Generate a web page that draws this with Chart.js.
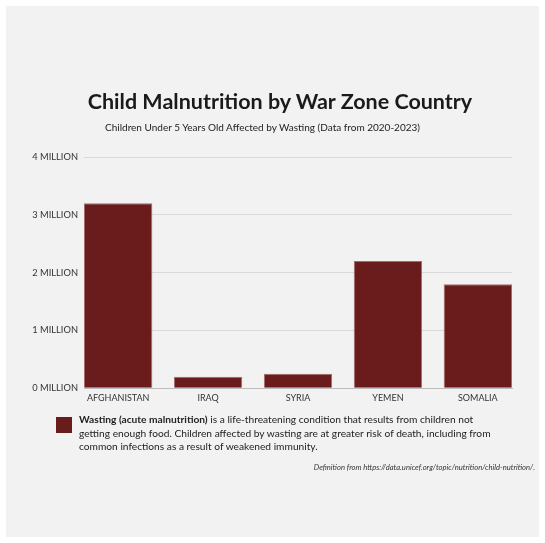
<!DOCTYPE html>
<html>
<head>
<meta charset="utf-8">
<script src="https://cdn.jsdelivr.net/npm/chart.js@4.4.1/dist/chart.umd.min.js"></script>
<style>
    html, body { margin: 0; padding: 0; background: #ffffff; }
    body { width: 545px; height: 543px; position: relative; overflow: hidden; font-family: Lato, sans-serif; color: #222; }
    #panel { position: absolute; left: 6px; top: 6px; width: 533px; height: 531px; background: #f2f2f2; }
    #chartBox { position: absolute; left: 0; top: 0; width: 545px; height: 543px; }
    .title { position: absolute; left: 0; width: 560px; top: 88px; text-align: center; font-size: 21.5px; font-weight: bold; color: #1a1a1a; }
    .subtitle { position: absolute; left: 0; width: 525px; top: 121px; text-align: center; font-size: 10px; color: #222; }
    .legend { position: absolute; left: 56px; top: 411px; width: 450px; }
    .swatch { position: absolute; left: 0; top: 6px; width: 16px; height: 16px; background: #6a1b1c; }
    .legend p { margin: 0 0 0 23px; padding-top: 2px; width: 420px; font-size: 10.2px; line-height: 13.5px; color: #222; }
    .note { position: absolute; right: 10px; top: 462px; font-size: 7.6px; font-style: italic; color: #333; }
</style>
</head>
<body>
<div id="panel"></div>
<div id="chartBox"><canvas id="malnutritionChart"></canvas></div>
<div class="title">Child Malnutrition by War Zone Country</div>
<div class="subtitle">Children Under 5 Years Old Affected by Wasting (Data from 2020-2023)</div>
<div class="legend">
    <div class="swatch"></div>
    <p><b>Wasting (acute malnutrition)</b> is a life-threatening condition that results from children not getting enough food. Children affected by wasting are at greater risk of death, including from common infections as a result of weakened immunity.</p>
</div>
<div class="note">Definition from https://data.unicef.org/topic/nutrition/child-nutrition/.</div>

<script>
// children under 5 affected by wasting, in millions
const countries = ["AFGHANISTAN", "IRAQ", "SYRIA", "YEMEN", "SOMALIA"];
const wastingMillions = [3.2, 0.2, 0.25, 2.2, 1.8];
const yTicks = [0, 1, 2, 3, 4];

const barWidth = 0.76; // share of each slot, bars sit flush with the grid ends

function drawChart() {
    const points = countries.map((c, i) => ({ x: i, y: wastingMillions[i] }));

    const ctx = document.getElementById('malnutritionChart').getContext('2d');

    new Chart(ctx, {
        type: 'bar',
        data: {
            datasets: [{
                label: "Wasting",
                data: points,
                backgroundColor: "#6a1b1c",
                borderColor: "#a76a6a",
                borderWidth: 1,
                categoryPercentage: barWidth,
                barPercentage: 1
            }]
        },
        options: {
            responsive: true,
            maintainAspectRatio: false,
            animation: false,
            layout: { padding: { left: 0, right: 33, top: 157, bottom: 136 } },
            plugins: {
                legend: { display: false },
                tooltip: { enabled: false }
            },
            scales: {
                x: {
                    type: 'linear',
                    offset: false,
                    min: -barWidth / 2,
                    max: countries.length - 1 + barWidth / 2,
                    afterBuildTicks: function(scale) {
                        scale.ticks = countries.map((c, i) => ({ value: i }));
                    },
                    ticks: {
                        padding: 4,
                        color: "#333",
                        font: { family: "Lato", size: 9 },
                        callback: function(value) {
                            return countries[value];
                        }
                    },
                    grid: { display: false, drawTicks: false },
                    border: { display: true, color: "#bdbdbd", width: 1 }
                },
                y: {
                    min: 0,
                    max: 4,
                    afterBuildTicks: function(scale) {
                        scale.ticks = yTicks.map(v => ({ value: v }));
                    },
                    afterFit: function(scale) {
                        scale.width = 84;
                    },
                    ticks: {
                        padding: 6,
                        color: "#333",
                        font: { family: "Lato", size: 9.3 },
                        callback: function(value) {
                            return value + " MILLION";
                        }
                    },
                    grid: { color: "#d9d9d9", drawTicks: false },
                    border: { display: false }
                }
            }
        }
    });
}

document.addEventListener("DOMContentLoaded", drawChart);
</script>
</body>
</html>
